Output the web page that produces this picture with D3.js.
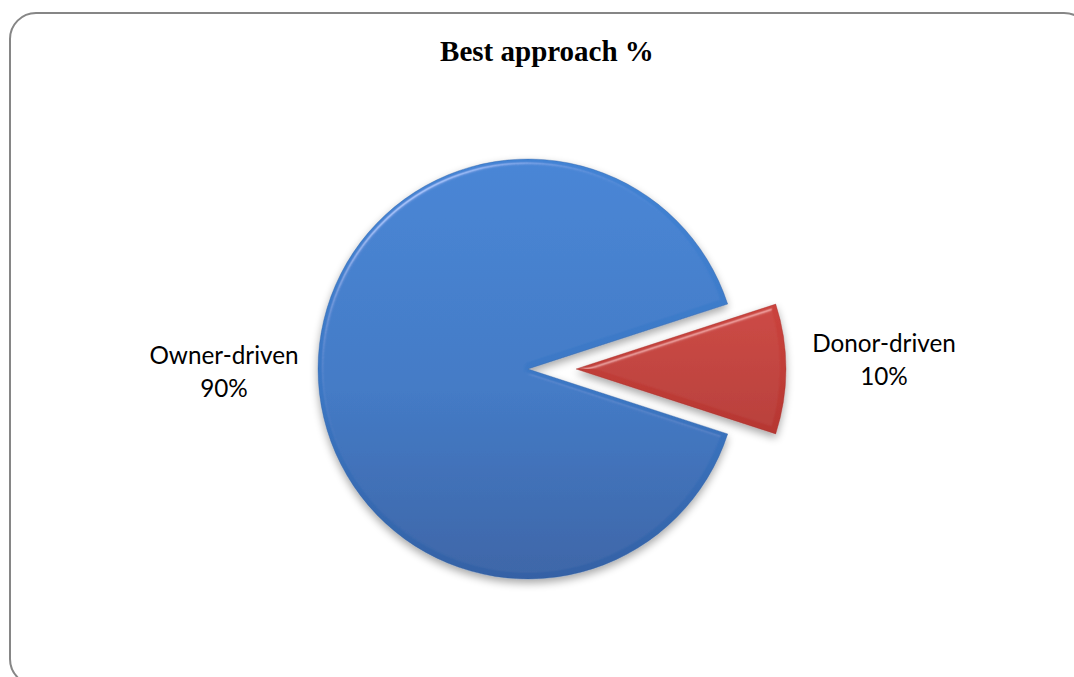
<!DOCTYPE html>
<html>
<head>
<meta charset="utf-8">
<script src="https://cdn.jsdelivr.net/npm/d3@7"></script>
<style>
  html, body { margin: 0; padding: 0; background: #fff; }
  svg { display: block; }
</style>
</head>
<body>
<svg id="chart" width="1074" height="677"></svg>
<script>
// Survey result: preferred reconstruction approach
const title = "Best approach %";
const categories = ["Owner-driven", "Donor-driven"];
const values = [90, 10];
const percentLabels = ["90%", "10%"];

const svg = d3.select("#chart");

// Frame
svg.append("rect")
  .attr("x", 10).attr("y", 13)
  .attr("width", 1080).attr("height", 672)
  .attr("rx", 26).attr("ry", 26)
  .attr("fill", "#fff")
  .attr("stroke", "#868686")
  .attr("stroke-width", 2);

// Title
svg.append("text")
  .attr("x", 547).attr("y", 61)
  .attr("text-anchor", "middle")
  .attr("font-family", "'Liberation Serif', 'Times New Roman', serif")
  .attr("font-weight", "bold")
  .attr("font-size", 29)
  .attr("fill", "#000")
  .text(title);

const defs = svg.append("defs");

const gradBlue = defs.append("linearGradient").attr("id", "gBlue")
  .attr("x1", 0).attr("y1", 0).attr("x2", 0).attr("y2", 1);
gradBlue.append("stop").attr("offset", "0%").attr("stop-color", "#4283d4");
gradBlue.append("stop").attr("offset", "55%").attr("stop-color", "#3b77c4");
gradBlue.append("stop").attr("offset", "100%").attr("stop-color", "#3461a5");

const gradRed = defs.append("linearGradient").attr("id", "gRed")
  .attr("x1", 0).attr("y1", 0).attr("x2", 0).attr("y2", 1);
gradRed.append("stop").attr("offset", "0%").attr("stop-color", "#cb433d");
gradRed.append("stop").attr("offset", "100%").attr("stop-color", "#b63732");

// Soft shadow + edge bevel
const f = defs.append("filter").attr("id", "shade")
  .attr("x", "-20%").attr("y", "-20%").attr("width", "140%").attr("height", "140%");
f.append("feGaussianBlur").attr("in", "SourceAlpha").attr("stdDeviation", 4).attr("result", "blur");
f.append("feOffset").attr("in", "blur").attr("dx", 0).attr("dy", 4).attr("result", "off");
f.append("feComponentTransfer").attr("in", "off").attr("result", "shadow")
  .append("feFuncA").attr("type", "linear").attr("slope", 0.35);
f.append("feGaussianBlur").attr("in", "SourceAlpha").attr("stdDeviation", 2.5).attr("result", "ib");
f.append("feSpecularLighting").attr("in", "ib").attr("surfaceScale", 4)
  .attr("specularConstant", 0.9).attr("specularExponent", 40)
  .attr("lighting-color", "#ffffff").attr("result", "spec")
  .append("feDistantLight").attr("azimuth", 235).attr("elevation", 45);
f.append("feComposite").attr("in", "spec").attr("in2", "SourceAlpha")
  .attr("operator", "in").attr("result", "specIn");
f.append("feComposite").attr("in", "SourceGraphic").attr("in2", "specIn")
  .attr("operator", "arithmetic").attr("k1", 0).attr("k2", 1).attr("k3", 0.35).attr("k4", 0)
  .attr("result", "lit");
const m = f.append("feMerge");
m.append("feMergeNode").attr("in", "shadow");
m.append("feMergeNode").attr("in", "lit");

const cx = 528, cy = 369, R = 210, explode = 48;

const data = categories.map((c, i) => ({ name: c, value: values[i], label: percentLabels[i] }));

// Owner-driven slice starts just below 3 o'clock so the small slice sits on the right
const pie = d3.pie().value(d => d.value).sort(null)
  .startAngle(108 * Math.PI / 180)
  .endAngle(108 * Math.PI / 180 + 2 * Math.PI);
const arcs = pie(data);
const arc = d3.arc().innerRadius(0).outerRadius(R);

const fills = ["url(#gBlue)", "url(#gRed)"];
const edge = ["#2f5c9e", "#9e2e2a"];
const explodes = [0, explode];

const g = svg.append("g").attr("transform", `translate(${cx},${cy})`);

g.selectAll("path.slice").data(arcs).enter().append("path")
  .attr("class", "slice")
  .attr("d", arc)
  .attr("fill", (d, i) => fills[i])
  .attr("stroke", (d, i) => edge[i])
  .attr("stroke-width", 0.6)
  .attr("stroke-opacity", 0.6)
  .attr("filter", "url(#shade)")
  .attr("transform", (d, i) => {
    const mid = (d.startAngle + d.endAngle) / 2;
    return `translate(${Math.sin(mid) * explodes[i]},${-Math.cos(mid) * explodes[i]})`;
  });

// Category labels outside the pie
const labelPos = [
  { x: 224, y: 355 },
  { x: 884, y: 343 }
];
const lineGap = 33;

arcs.forEach((d, i) => {
  const t = svg.append("text")
    .attr("text-anchor", "middle")
    .attr("font-family", "Lato, 'Open Sans', sans-serif")
    .attr("font-size", 24.3)
    .attr("fill", "#000");
  t.append("tspan").attr("x", labelPos[i].x).attr("y", labelPos[i].y)
    .attr("dy", "0.35em").text(d.data.name);
  t.append("tspan").attr("x", labelPos[i].x).attr("y", labelPos[i].y + lineGap)
    .attr("dy", "0.35em").text(d.data.label);
});
</script>
</body>
</html>
